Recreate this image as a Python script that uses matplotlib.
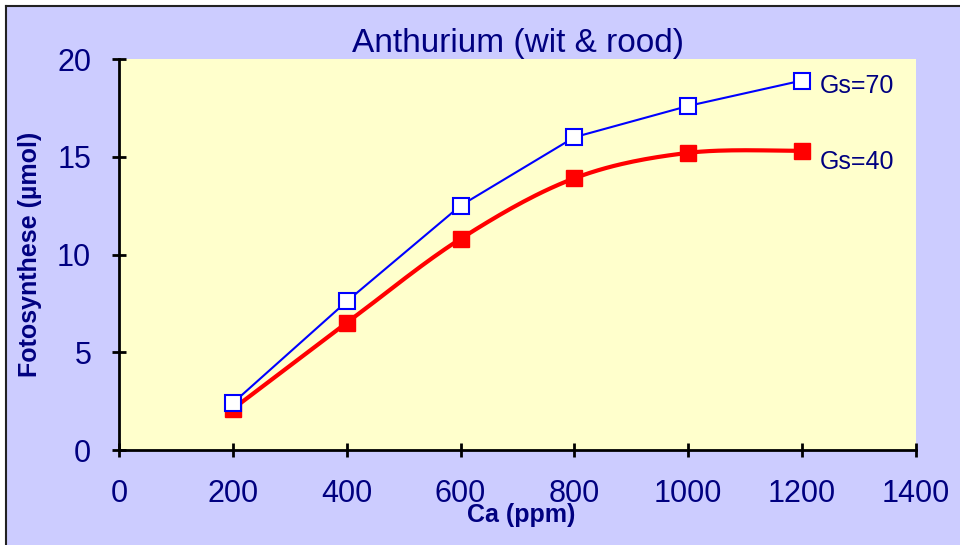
import numpy as np
import matplotlib.pyplot as plt
from matplotlib.lines import Line2D

plt.rcParams['font.family'] = ['Liberation Sans', 'DejaVu Sans']

ca = [200, 400, 600, 800, 1000, 1200]
gs70 = [2.4, 7.6, 12.5, 16.0, 17.6, 18.9]
gs40 = [2.1, 6.5, 10.8, 13.9, 15.2, 15.3]

navy = '#000080'
lavender = '#CCCCFF'
yellow = '#FFFFCC'


def smooth(xs, ys, n=30):
    # Bezier smoothing through every point (Catmull-Rom style handles)
    p = np.column_stack([xs, ys]).astype(float)
    out = [p[0]]
    t = np.linspace(0, 1, n)[1:, None]
    for i in range(len(p) - 1):
        p0 = p[i - 1] if i > 0 else p[i]
        p1, p2 = p[i], p[i + 1]
        p3 = p[i + 2] if i + 2 < len(p) else p[i + 1]
        c1 = p1 + (p2 - p0) / 6
        c2 = p2 - (p3 - p1) / 6
        seg = ((1 - t) ** 3) * p1 + 3 * ((1 - t) ** 2) * t * c1 + 3 * (1 - t) * t ** 2 * c2 + t ** 3 * p2
        out.extend(seg)
    out = np.array(out)
    return out[:, 0], out[:, 1]


fig = plt.figure(figsize=(9.6, 5.45), dpi=100)
fig.patch.set_facecolor('white')
# chart frame: lavender panel with a dark edge on top and left
fig.patches.append(plt.Rectangle((6 / 960, -0.05), 1.1, 1 - 6 / 545 + 0.05,
                                 transform=fig.transFigure, facecolor=lavender,
                                 edgecolor='none', zorder=-10))
fig.lines.append(Line2D([6 / 960, 6 / 960], [0, 1 - 6 / 545], transform=fig.transFigure,
                        color='#222222', lw=1.5, zorder=-5))
fig.lines.append(Line2D([6 / 960, 1], [1 - 6 / 545, 1 - 6 / 545], transform=fig.transFigure,
                        color='#222222', lw=1.5, zorder=-5))

ax = fig.add_axes([119 / 960, 95 / 545, 797 / 960, 391 / 545])
ax.set_facecolor(yellow)

sx, sy = smooth(ca, gs40)
ax.plot(sx, sy, color='red', lw=3, zorder=3)
ax.plot(ca, gs40, ls='none', marker='s', ms=11, color='red', zorder=4)
ax.plot(ca, gs70, color='blue', lw=1.5, marker='s', ms=11,
        mfc='white', mec='blue', mew=1.5, zorder=5)

ax.text(1231, 18.6, 'Gs=70', color=navy, fontsize=18, va='center')
ax.text(1231, 14.75, 'Gs=40', color=navy, fontsize=18, va='center')

ax.set_xlim(0, 1400)
ax.set_ylim(0, 20)
ax.set_xticks(range(0, 1401, 200))
ax.set_yticks(range(0, 21, 5))
for side in ['top', 'right']:
    ax.spines[side].set_visible(False)
for side in ['left', 'bottom']:
    ax.spines[side].set_linewidth(2)
ax.tick_params(direction='inout', length=10, width=2, labelsize=22, labelcolor=navy)
ax.tick_params(axis='x', pad=16)
ax.tick_params(axis='y', pad=15)

ax.set_title('Anthurium (wit & rood)', fontsize=24, color=navy, pad=2)
ax.set_xlabel('Ca (ppm)', fontsize=18, fontweight='bold', color=navy)
ax.set_ylabel('Fotosynthese (µmol)', fontsize=18, fontweight='bold', color=navy)
ax.xaxis.set_label_coords(0.505, -0.135)
ax.yaxis.set_label_coords(-0.097, 0.5)

fig.savefig('out.png', dpi=100, facecolor=fig.get_facecolor())
